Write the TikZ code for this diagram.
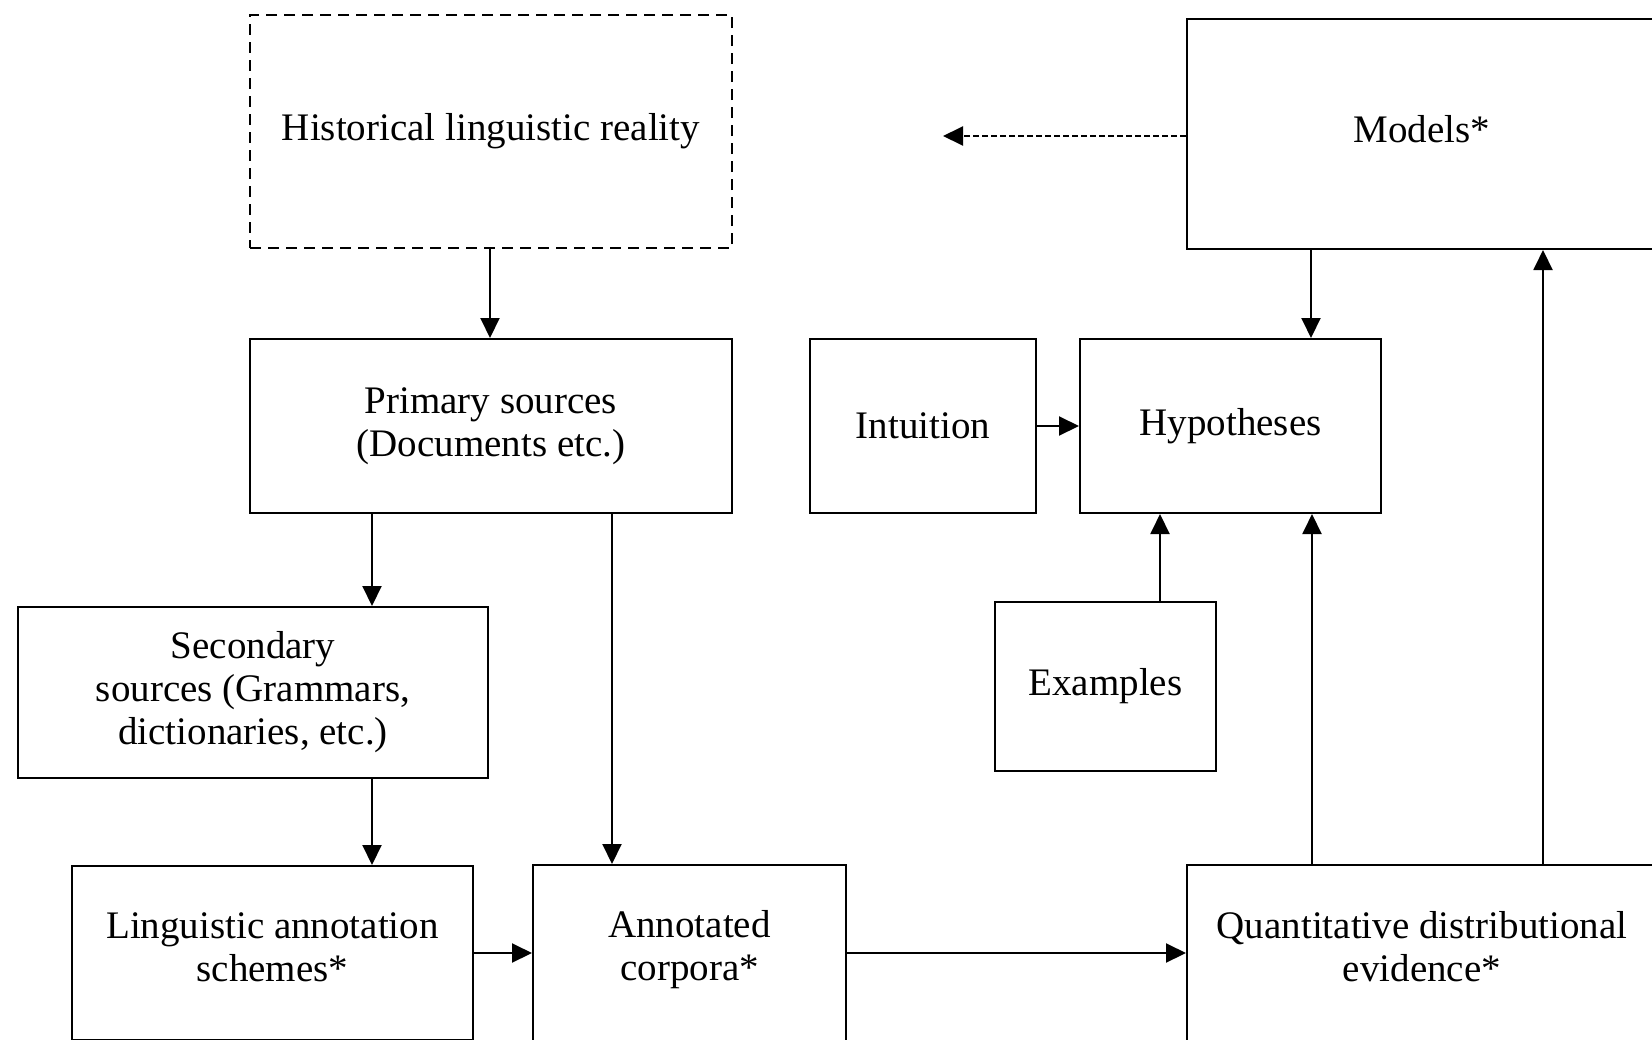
\documentclass[tikz,border=0pt]{standalone}
\usepackage{fontspec}
\setmainfont{Liberation Serif}
\usetikzlibrary{arrows.meta}
\begin{document}
\begin{tikzpicture}[x=1pt,y=-1pt,
  box/.style={draw, line width=2pt, inner sep=0pt, align=center,
    font=\fontsize{39}{43}\selectfont},
  dbox/.style={box, dash pattern=on 11pt off 7pt},
  arr/.style={line width=2pt, -{Triangle[length=20pt,width=19pt]}},
  darr/.style={arr, dash pattern=on 6pt off 3pt}]
\useasboundingbox (0,0) rectangle (1652,1039);
\node[dbox, minimum width=482pt, minimum height=233pt] (hist) at (491,131.5) {Historical linguistic reality};
\node[box, minimum width=470pt, minimum height=230pt] (models) at (1422,134) {\raisebox{10pt}{Models*}};
\node[box, minimum width=482pt, minimum height=174pt] (primary) at (491,426) {Primary sources\\(Documents etc.)};
\node[box, minimum width=226pt, minimum height=174pt] (intuition) at (923,426) {Intuition};
\node[box, minimum width=301pt, minimum height=174pt] (hyp) at (1230.5,426) {Hypotheses};
\node[box, minimum width=221pt, minimum height=169pt] (examples) at (1105.5,686.5) {Examples};
\node[box, minimum width=470pt, minimum height=171pt] (secondary) at (253,692.5) {Secondary\\sources (Grammars,\\dictionaries, etc.)};
\node[box, minimum width=401pt, minimum height=174pt] (ling) at (272.5,953) {Linguistic annotation\\schemes*\rule[-12pt]{0pt}{1pt}};
\node[box, minimum width=313pt, minimum height=176pt] (annot) at (689.5,953) {Annotated\\corpora*\rule[-16pt]{0pt}{1pt}};
\node[box, minimum width=470pt, minimum height=176pt] (quant) at (1422,953) {Quantitative distributional\\evidence*\rule[-14pt]{0pt}{1pt}};
\coordinate (dend) at (943,136);

\draw[arr] (hist.south -| 490,0) -- (primary.north -| 490,0);
\draw[arr] (primary.south -| 372,0) -- (secondary.north -| 372,0);
\draw[arr] (primary.south -| 612,0) -- (annot.north -| 612,0);
\draw[arr] (secondary.south -| 372,0) -- (ling.north -| 372,0);
\draw[arr] (ling) -- (annot);
\draw[arr] (annot) -- (quant);
\draw[arr] (quant.north -| 1312,0) -- (hyp.south -| 1312,0);
\draw[arr] (quant.north -| 1543,0) -- (models.south -| 1543,0);
\draw[arr] (models.south -| 1311,0) -- (hyp.north -| 1311,0);
\draw[arr] (intuition) -- (hyp);
\draw[arr] (examples.north -| 1160,0) -- (hyp.south -| 1160,0);
\draw[darr] (models.west |- dend) -- (dend);
\end{tikzpicture}
\end{document}
